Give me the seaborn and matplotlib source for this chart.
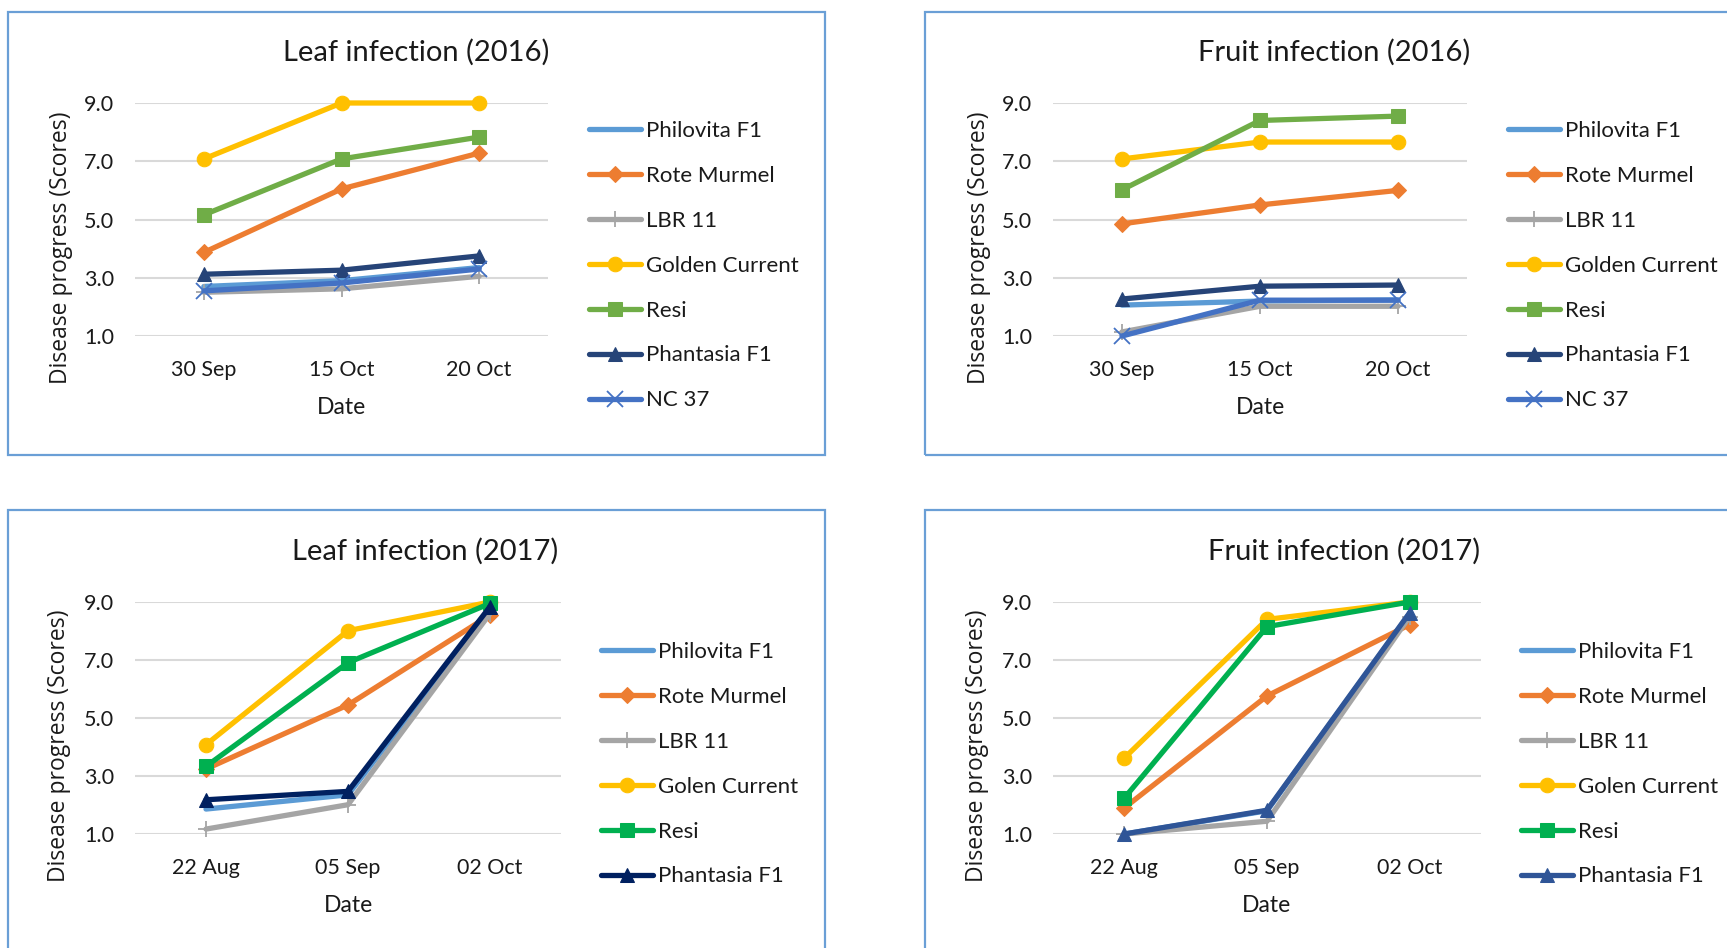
import matplotlib
matplotlib.use("Agg")
import matplotlib.pyplot as plt
from matplotlib.patches import Rectangle
import seaborn as sns
import pandas as pd

# ---- data -------------------------------------------------------------
dates_2016 = ["30 Sep", "15 Oct", "20 Oct"]
dates_2017 = ["22 Aug", "05 Sep", "02 Oct"]

cultivars_2016 = ["Philovita F1", "Rote Murmel", "LBR 11", "Golden Current",
                  "Resi", "Phantasia F1", "NC 37"]
cultivars_2017 = ["Philovita F1", "Rote Murmel", "LBR 11", "Golen Current",
                  "Resi", "Phantasia F1"]

leaf_2016 = {
    "Philovita F1":   [2.70, 2.90, 3.35],
    "Rote Murmel":    [3.87, 6.05, 7.28],
    "LBR 11":         [2.50, 2.62, 3.05],
    "Golden Current": [7.08, 9.00, 9.00],
    "Resi":           [5.16, 7.08, 7.83],
    "Phantasia F1":   [3.12, 3.26, 3.75],
    "NC 37":          [2.55, 2.82, 3.30],
}
fruit_2016 = {
    "Philovita F1":   [2.06, 2.20, 2.24],
    "Rote Murmel":    [4.85, 5.50, 6.00],
    "LBR 11":         [1.14, 2.02, 2.02],
    "Golden Current": [7.08, 7.66, 7.66],
    "Resi":           [6.02, 8.40, 8.55],
    "Phantasia F1":   [2.27, 2.71, 2.75],
    "NC 37":          [1.00, 2.23, 2.23],
}
leaf_2017 = {
    "Philovita F1":   [1.86, 2.35, 8.70],
    "Rote Murmel":    [3.24, 5.45, 8.55],
    "LBR 11":         [1.17, 2.01, 8.60],
    "Golen Current":  [4.08, 8.01, 9.00],
    "Resi":           [3.33, 6.91, 8.95],
    "Phantasia F1":   [2.18, 2.47, 8.84],
}
fruit_2017 = {
    "Philovita F1":   [1.00, 1.80, 8.60],
    "Rote Murmel":    [1.90, 5.76, 8.22],
    "LBR 11":         [1.00, 1.44, 8.50],
    "Golen Current":  [3.62, 8.40, 9.00],
    "Resi":           [2.24, 8.15, 9.00],
    "Phantasia F1":   [1.00, 1.82, 8.63],
}
y_ticks = [1.0, 3.0, 5.0, 7.0, 9.0]

# ---- styling ------------------------------------------------------------
sns.set_style("white")
plt.rcParams["font.family"] = ["Lato", "DejaVu Sans"]

W, H = 1727, 948
fig = plt.figure(figsize=(W / 100, H / 100), dpi=100)
fig.patch.set_facecolor("white")

BORDER = "#6A9FD6"
GRID = "#D9D9D9"
TEXT = "#1a1a1a"

style_2016 = {
    "Philovita F1":   ("#5B9BD5", None),
    "Rote Murmel":    ("#ED7D31", "D"),
    "LBR 11":         ("#A5A5A5", "+"),
    "Golden Current": ("#FFC000", "o"),
    "Resi":           ("#70AD47", "s"),
    "Phantasia F1":   ("#264478", "^"),
    "NC 37":          ("#4472C4", "x"),
}
style_leaf_2017 = {
    "Philovita F1":   ("#5B9BD5", None),
    "Rote Murmel":    ("#ED7D31", "D"),
    "LBR 11":         ("#A5A5A5", "+"),
    "Golen Current":  ("#FFC000", "o"),
    "Resi":           ("#00B050", "s"),
    "Phantasia F1":   ("#002060", "^"),
}
style_fruit_2017 = dict(style_leaf_2017)
style_fruit_2017["Phantasia F1"] = ("#2F5597", "^")


def px_axes(left, right, top, bottom):
    return fig.add_axes([left / W, 1 - bottom / H, (right - left) / W, (bottom - top) / H])


def frame(x0, y0, x1, y1):
    fig.patches.append(Rectangle((x0 / W, 1 - y1 / H), (x1 - x0) / W, (y1 - y0) / H,
                                 transform=fig.transFigure, fill=False,
                                 edgecolor=BORDER, linewidth=1.6, zorder=0))


def panel(box, title, dates, cultivars, values, styles, legend_xy):
    left, right, top, bottom = box
    h = bottom - top
    ax = px_axes(left, right, top, bottom)
    rows = [(c, d, v) for c in cultivars for d, v in zip(dates, values[c])]
    df = pd.DataFrame(rows, columns=["Cultivar", "Date", "Score"])
    for c in cultivars:
        color, mk = styles[c]
        kw = dict(marker=mk if mk else "", markersize=10.5, markeredgecolor=color,
                  markerfacecolor=color)
        if mk in ("+", "x"):
            kw.update(markersize=11, markeredgewidth=1.3)
        if mk == "D":
            kw.update(markersize=8.5)
        sns.lineplot(data=df[df["Cultivar"] == c], x="Date", y="Score", ax=ax,
                     color=color, linewidth=3.8, label=c, sort=False,
                     clip_on=False, **kw)
    ax.set_xlim(-0.5, 2.5)
    ax.set_ylim(1.0, 9.0)
    ax.set_yticks(y_ticks)
    ax.set_yticklabels([f"{t:.1f}" for t in y_ticks])
    ax.grid(axis="y", color=GRID, linewidth=1.5, zorder=0)
    ax.set_axisbelow(True)
    for s in ax.spines.values():
        s.set_visible(False)
    ax.tick_params(axis="both", length=0, labelsize=15.5, colors=TEXT)
    ax.tick_params(axis="y", pad=15)
    ax.tick_params(axis="x", pad=17)
    ax.set_xlabel("Date", fontsize=16.5, color=TEXT)
    ax.xaxis.set_label_coords(0.5, -0.263)
    ax.set_ylabel("Disease progress (Scores)", fontsize=16.5, color=TEXT,
                  family=["Open Sans", "DejaVu Sans"])
    ax.yaxis.set_label_coords(-0.15, 0.38)
    ax.set_title(title, fontsize=21, color=TEXT, x=0.68, y=1 + 42 / h, va="center")
    handles, labels = ax.get_legend_handles_labels()
    lx, ly = legend_xy
    ax.legend(handles, labels, loc="upper left",
              bbox_to_anchor=(lx / W, 1 - ly / H), bbox_transform=fig.transFigure,
              frameon=False, fontsize=16, handlelength=2.36, handletextpad=0.22,
              labelspacing=1.12, borderpad=0, borderaxespad=0, labelcolor=TEXT)
    return ax


frame(8, 12, 825, 455)
frame(925, 12, 1760, 455)
frame(8, 510, 825, 990)
frame(925, 510, 1760, 990)

panel((135, 548, 103, 336), "Leaf infection (2016)", dates_2016, cultivars_2016,
      leaf_2016, style_2016, (589, 121))
panel((1053, 1467, 103, 336), "Fruit infection (2016)", dates_2016, cultivars_2016,
      fruit_2016, style_2016, (1508, 121))
panel((135, 561, 602, 834), "Leaf infection (2017)", dates_2017, cultivars_2017,
      leaf_2017, style_leaf_2017, (601, 642))
panel((1053, 1481, 602, 834), "Fruit infection (2017)", dates_2017, cultivars_2017,
      fruit_2017, style_fruit_2017, (1521, 642))

fig.savefig("out.png", dpi=100)
